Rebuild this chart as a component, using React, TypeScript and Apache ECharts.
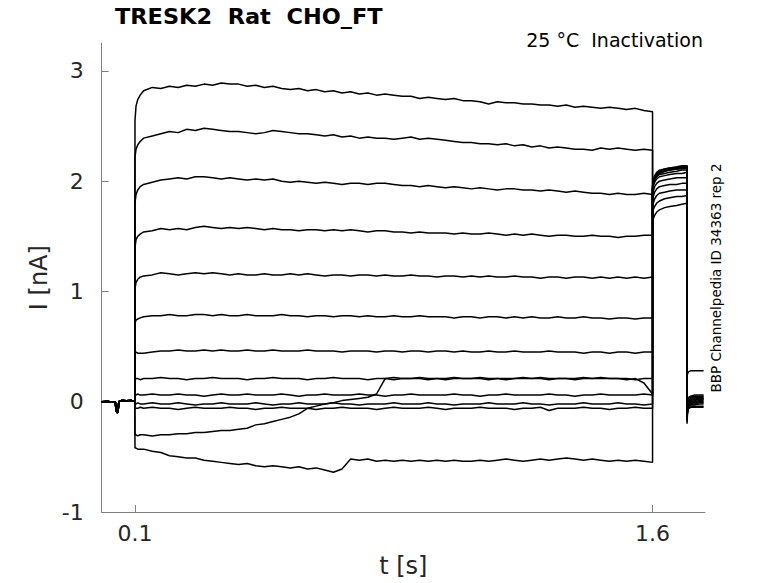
import React, { useEffect, useRef } from "react";
import * as echarts from "echarts";

const FONT = "DejaVu Sans";

// Tick labels
const xTicks = [0.1, 1.6];
const yTicks = [-1, 0, 1, 2, 3];

// Holding segment before the step (shared by all sweeps)
const holdT = [0.0035, 0.02, 0.035, 0.043, 0.045, 0.048, 0.051, 0.053, 0.06, 0.075, 0.09, 0.0995];
const holdI = [0.0, 0.003, -0.002, 0.0, -0.08, -0.1, -0.09, 0.0, 0.01, 0.008, 0.01, 0.005];

// Step segment time base (s)
const stepT = [
  0.1, 0.103, 0.108, 0.115,
  0.125, 0.15, 0.175, 0.2, 0.225, 0.25, 0.275, 0.3, 0.325, 0.35,
  0.375, 0.4, 0.425, 0.45, 0.475, 0.5, 0.525, 0.55, 0.575, 0.6,
  0.625, 0.65, 0.675, 0.7, 0.725, 0.75, 0.775, 0.8, 0.825, 0.85,
  0.875, 0.9, 0.925, 0.95, 0.975, 1.0, 1.025, 1.05, 1.075, 1.1,
  1.125, 1.15, 1.175, 1.2, 1.225, 1.25, 1.275, 1.3, 1.325, 1.35,
  1.375, 1.4, 1.425, 1.45, 1.475, 1.5, 1.525, 1.55, 1.575, 1.6,
];

// Step currents (nA) for the 13 sweeps
const sweepA = [
  2.55, 2.68, 2.74, 2.78,
  2.82, 2.85, 2.84, 2.86, 2.85, 2.87, 2.86, 2.88, 2.87, 2.89,
  2.88, 2.88, 2.86, 2.87, 2.85, 2.86, 2.84, 2.83, 2.84, 2.82,
  2.83, 2.81, 2.82, 2.80, 2.81, 2.79, 2.80, 2.78, 2.79, 2.78,
  2.77, 2.77, 2.75, 2.76, 2.75, 2.74, 2.75, 2.73, 2.73, 2.72,
  2.70, 2.72, 2.71, 2.71, 2.70, 2.70, 2.69, 2.69, 2.68, 2.69,
  2.67, 2.68, 2.67, 2.66, 2.67, 2.66, 2.65, 2.66, 2.64, 2.63,
];
const sweepB = [
  2.22, 2.29, 2.33, 2.36,
  2.39, 2.41, 2.43, 2.45, 2.44, 2.47, 2.46, 2.48, 2.47, 2.46,
  2.45, 2.45, 2.44, 2.43, 2.44, 2.46, 2.45, 2.44, 2.43, 2.43,
  2.42, 2.41, 2.42, 2.40, 2.41, 2.39, 2.40, 2.39, 2.39, 2.38,
  2.39, 2.40, 2.38, 2.39, 2.38, 2.37, 2.36, 2.35, 2.35, 2.34,
  2.34, 2.33, 2.34, 2.32, 2.33, 2.31, 2.32, 2.30, 2.31, 2.30,
  2.29, 2.29, 2.28, 2.30, 2.29, 2.30, 2.29, 2.28, 2.29, 2.28,
];
const sweepC = [
  1.80, 1.88, 1.92, 1.95,
  1.97, 1.99, 2.01, 2.02, 2.03, 2.02, 2.04, 2.04, 2.03, 2.02,
  2.03, 2.02, 2.01, 2.02, 2.01, 2.02, 2.00, 1.99, 2.00, 1.99,
  1.98, 1.99, 1.98, 1.97, 1.98, 1.98, 1.97, 1.98, 1.98, 1.97,
  1.96, 1.96, 1.95, 1.96, 1.95, 1.94, 1.95, 1.94, 1.93, 1.94,
  1.93, 1.92, 1.93, 1.93, 1.92, 1.92, 1.91, 1.92, 1.91, 1.90,
  1.91, 1.90, 1.89, 1.89, 1.88, 1.89, 1.88, 1.88, 1.89, 1.88,
];
const sweepD = [
  1.40, 1.47, 1.50, 1.52,
  1.54, 1.55, 1.57, 1.56, 1.57, 1.56, 1.58, 1.59, 1.58, 1.57,
  1.58, 1.57, 1.58, 1.57, 1.56, 1.57, 1.56, 1.56, 1.55, 1.56,
  1.56, 1.55, 1.56, 1.55, 1.56, 1.55, 1.54, 1.55, 1.55, 1.54,
  1.54, 1.53, 1.54, 1.53, 1.53, 1.53, 1.52, 1.53, 1.52, 1.52,
  1.53, 1.52, 1.51, 1.52, 1.51, 1.52, 1.51, 1.50, 1.51, 1.51,
  1.50, 1.50, 1.51, 1.50, 1.50, 1.49, 1.50, 1.50, 1.51, 1.51,
];
const sweepE = [
  1.03, 1.08, 1.11, 1.13,
  1.14, 1.15, 1.17, 1.16, 1.15, 1.16, 1.17, 1.16, 1.17, 1.16,
  1.15, 1.16, 1.15, 1.15, 1.16, 1.15, 1.15, 1.16, 1.15, 1.16,
  1.15, 1.14, 1.15, 1.15, 1.14, 1.15, 1.15, 1.14, 1.15, 1.14,
  1.14, 1.15, 1.14, 1.14, 1.13, 1.14, 1.14, 1.13, 1.14, 1.13,
  1.14, 1.13, 1.13, 1.14, 1.13, 1.13, 1.12, 1.13, 1.13, 1.12,
  1.13, 1.13, 1.12, 1.13, 1.12, 1.13, 1.12, 1.13, 1.12, 1.13,
];
const sweepF = [
  0.71, 0.74, 0.75, 0.76,
  0.77, 0.78, 0.78, 0.79, 0.78, 0.78, 0.79, 0.79, 0.78, 0.79,
  0.78, 0.78, 0.79, 0.78, 0.78, 0.78, 0.79, 0.78, 0.78, 0.77,
  0.78, 0.78, 0.77, 0.78, 0.78, 0.77, 0.78, 0.77, 0.77, 0.78,
  0.77, 0.77, 0.78, 0.77, 0.77, 0.77, 0.76, 0.77, 0.77, 0.76,
  0.77, 0.77, 0.76, 0.77, 0.76, 0.77, 0.76, 0.76, 0.77, 0.76,
  0.76, 0.77, 0.76, 0.76, 0.75, 0.76, 0.76, 0.75, 0.76, 0.76,
];
const sweepG = [
  0.44, 0.45, 0.44, 0.44,
  0.44, 0.45, 0.46, 0.46, 0.47, 0.46, 0.46, 0.47, 0.46, 0.47,
  0.46, 0.46, 0.47, 0.46, 0.46, 0.47, 0.46, 0.46, 0.46, 0.47,
  0.46, 0.46, 0.46, 0.45, 0.46, 0.46, 0.46, 0.45, 0.46, 0.46,
  0.45, 0.46, 0.46, 0.45, 0.46, 0.46, 0.45, 0.46, 0.45, 0.45,
  0.46, 0.45, 0.45, 0.46, 0.45, 0.45, 0.45, 0.46, 0.45, 0.45,
  0.45, 0.44, 0.45, 0.45, 0.44, 0.45, 0.45, 0.44, 0.45, 0.45,
];
const sweepH = [
  0.20, 0.21, 0.21, 0.20,
  0.21, 0.21, 0.22, 0.21, 0.21, 0.20, 0.21, 0.21, 0.22, 0.21,
  0.21, 0.21, 0.20, 0.21, 0.21, 0.22, 0.21, 0.21, 0.21, 0.20,
  0.21, 0.21, 0.22, 0.21, 0.21, 0.21, 0.20, 0.21, 0.21, 0.22,
  0.21, 0.21, 0.21, 0.20, 0.21, 0.21, 0.22, 0.21, 0.21, 0.21,
  0.20, 0.21, 0.21, 0.21, 0.22, 0.21, 0.21, 0.20, 0.21, 0.21,
  0.21, 0.22, 0.21, 0.21, 0.21, 0.21, 0.20, 0.21, 0.17, 0.07,
];
const sweepI = [
  0.06, 0.06, 0.07, 0.06,
  0.06, 0.07, 0.06, 0.06, 0.07, 0.06, 0.06, 0.05, 0.06, 0.07,
  0.06, 0.06, 0.07, 0.06, 0.06, 0.06, 0.07, 0.06, 0.05, 0.06,
  0.06, 0.07, 0.06, 0.06, 0.06, 0.07, 0.06, 0.06, 0.05, 0.06,
  0.06, 0.07, 0.06, 0.06, 0.06, 0.06, 0.07, 0.06, 0.06, 0.05,
  0.06, 0.06, 0.07, 0.06, 0.06, 0.06, 0.06, 0.07, 0.06, 0.06,
  0.05, 0.06, 0.06, 0.07, 0.06, 0.06, 0.06, 0.06, 0.07, 0.06,
];
const sweepJ = [
  -0.02, -0.02, -0.01, -0.02,
  -0.02, -0.01, -0.02, -0.02, -0.01, -0.02, -0.03, -0.02, -0.02, -0.01,
  -0.02, -0.02, -0.02, -0.01, -0.02, -0.03, -0.02, -0.02, -0.01, -0.02,
  -0.02, -0.02, -0.01, -0.02, -0.02, -0.03, -0.02, -0.02, -0.02, -0.01,
  -0.02, -0.02, -0.02, -0.01, -0.02, -0.02, -0.03, -0.02, -0.02, -0.02,
  -0.01, -0.02, -0.02, -0.02, -0.01, -0.02, -0.02, -0.03, -0.02, -0.02,
  -0.02, -0.01, -0.02, -0.02, -0.02, -0.01, -0.02, -0.02, -0.03, -0.02,
];
const sweepK = [
  -0.05, -0.06, -0.06, -0.05,
  -0.06, -0.05, -0.06, -0.06, -0.07, -0.06, -0.05, -0.06, -0.06, -0.06,
  -0.05, -0.06, -0.06, -0.07, -0.06, -0.06, -0.05, -0.06, -0.06, -0.06,
  -0.07, -0.06, -0.06, -0.05, -0.06, -0.06, -0.06, -0.07, -0.06, -0.05,
  -0.06, -0.06, -0.06, -0.05, -0.06, -0.07, -0.06, -0.06, -0.06, -0.05,
  -0.06, -0.06, -0.06, -0.07, -0.06, -0.06, -0.05, -0.08, -0.06, -0.06,
  -0.06, -0.05, -0.06, -0.06, -0.07, -0.06, -0.06, -0.05, -0.06, -0.06,
];
const sweepL = [
  -0.30, -0.30, -0.31, -0.30,
  -0.30, -0.31, -0.30, -0.30, -0.29, -0.29, -0.28, -0.28, -0.27, -0.26,
  -0.26, -0.25, -0.24, -0.21, -0.20, -0.18, -0.16, -0.14, -0.11, -0.06,
  -0.04, -0.02, -0.01, 0.01, 0.02, 0.03, 0.04, 0.07, 0.21, 0.20,
  0.21, 0.21, 0.22, 0.21, 0.21, 0.20, 0.21, 0.21, 0.21, 0.22,
  0.21, 0.21, 0.20, 0.21, 0.21, 0.21, 0.22, 0.21, 0.21, 0.21,
  0.20, 0.21, 0.21, 0.22, 0.21, 0.21, 0.21, 0.20, 0.21, 0.21,
];
const sweepM = [
  -0.42, -0.42, -0.43, -0.43,
  -0.43, -0.45, -0.46, -0.49, -0.50, -0.51, -0.51, -0.53, -0.54, -0.55,
  -0.56, -0.57, -0.56, -0.58, -0.59, -0.58, -0.59, -0.60, -0.59, -0.61,
  -0.60, -0.62, -0.64, -0.61, -0.52, -0.53, -0.52, -0.54, -0.53, -0.54,
  -0.53, -0.54, -0.53, -0.54, -0.53, -0.54, -0.53, -0.54, -0.54, -0.53,
  -0.54, -0.53, -0.52, -0.53, -0.54, -0.53, -0.52, -0.53, -0.52, -0.51,
  -0.52, -0.53, -0.52, -0.53, -0.54, -0.53, -0.54, -0.53, -0.54, -0.55,
];

// Test pulse (tail) segment
const tailT = [1.6, 1.602, 1.606, 1.612, 1.62, 1.635, 1.65, 1.67, 1.685, 1.7];
const tailA = [1.62, 1.66, 1.69, 1.72, 1.74, 1.76, 1.77, 1.78, 1.79, 1.80];
const tailB = [1.70, 1.74, 1.77, 1.80, 1.82, 1.84, 1.85, 1.86, 1.86, 1.87];
const tailC = [1.76, 1.80, 1.84, 1.87, 1.89, 1.90, 1.91, 1.92, 1.92, 1.92];
const tailD = [1.82, 1.86, 1.90, 1.93, 1.95, 1.96, 1.97, 1.97, 1.98, 1.98];
const tailE = [1.86, 1.91, 1.95, 1.98, 2.00, 2.01, 2.02, 2.03, 2.03, 2.03];
const tailF = [1.90, 1.95, 1.99, 2.02, 2.04, 2.05, 2.06, 2.07, 2.07, 2.08];
const tailG = [1.92, 1.97, 2.01, 2.04, 2.06, 2.07, 2.08, 2.09, 2.10, 2.10];
const tailH = [1.93, 1.98, 2.02, 2.05, 2.07, 2.09, 2.10, 2.11, 2.11, 2.12];
const tailI = [1.94, 1.99, 2.03, 2.06, 2.08, 2.10, 2.11, 2.12, 2.12, 2.13];
const tailJ = [1.94, 2.00, 2.04, 2.07, 2.09, 2.10, 2.11, 2.12, 2.13, 2.13];
const tailK = [1.95, 2.00, 2.04, 2.07, 2.09, 2.11, 2.12, 2.12, 2.13, 2.14];
const tailL = [1.93, 1.98, 2.02, 2.05, 2.07, 2.09, 2.10, 2.11, 2.12, 2.12];
const tailM = [1.95, 2.01, 2.05, 2.08, 2.10, 2.11, 2.12, 2.13, 2.14, 2.14];

// Return to holding
const endT = [1.7, 1.701, 1.704, 1.71, 1.72, 1.735, 1.748];
const endA = [-0.20, -0.12, -0.06, -0.03, -0.02, -0.01, -0.01];
const endB = [-0.18, -0.10, -0.05, -0.02, -0.01, 0.0, 0.0];
const endC = [-0.16, -0.08, -0.03, -0.01, 0.0, 0.01, 0.01];
const endD = [-0.14, -0.06, -0.02, 0.0, 0.01, 0.02, 0.02];
const endE = [-0.12, -0.05, -0.01, 0.01, 0.02, 0.02, 0.03];
const endF = [-0.10, -0.04, 0.0, 0.02, 0.03, 0.03, 0.03];
const endG = [-0.08, -0.02, 0.01, 0.03, 0.04, 0.04, 0.04];
const endH = [-0.06, 0.0, 0.03, 0.04, 0.05, 0.05, 0.05];
const endI = [-0.05, 0.01, 0.04, 0.05, 0.06, 0.06, 0.06];
const endJ = [-0.10, -0.06, -0.04, -0.03, -0.03, -0.02, -0.02];
const endK = [-0.12, -0.08, -0.06, -0.05, -0.04, -0.04, -0.04];
const endL = [0.22, 0.25, 0.27, 0.28, 0.28, 0.28, 0.28];
const endM = [-0.15, -0.09, -0.06, -0.05, -0.05, -0.05, -0.05];

const sweeps = [
  [sweepA, tailA, endA],
  [sweepB, tailB, endB],
  [sweepC, tailC, endC],
  [sweepD, tailD, endD],
  [sweepE, tailE, endE],
  [sweepF, tailF, endF],
  [sweepG, tailG, endG],
  [sweepH, tailH, endH],
  [sweepI, tailI, endI],
  [sweepJ, tailJ, endJ],
  [sweepK, tailK, endK],
  [sweepL, tailL, endL],
  [sweepM, tailM, endM],
];

function buildSweep(step: number[], tail: number[], end: number[]) {
  const pts: number[][] = [];
  holdT.forEach((t, i) => pts.push([t, holdI[i]]));
  stepT.forEach((t, i) => pts.push([t, step[i]]));
  tailT.forEach((t, i) => pts.push([t, tail[i]]));
  endT.forEach((t, i) => pts.push([t, end[i]]));
  return pts;
}

export default function App() {
  const ref = useRef<HTMLDivElement>(null);
  useEffect(() => {
    document.body.style.margin = "0";
    const chart = echarts.init(ref.current as HTMLDivElement, null, { renderer: "svg" });
    const axisColor = "#808080";
    const textColor = "#262626";
    chart.setOption({
      animation: false,
      backgroundColor: "#ffffff",
      grid: { left: 101.7, right: 73, top: 43.3, bottom: 71, containLabel: false },
      xAxis: {
        type: "value",
        min: 0.0035,
        max: 1.752,
        name: "t [s]",
        nameLocation: "middle",
        nameGap: 42,
        nameTextStyle: { fontSize: 24, color: textColor, fontFamily: FONT },
        axisLine: { show: true, onZero: false, lineStyle: { color: axisColor, width: 1 } },
        axisTick: { show: true, inside: true, length: 7, customValues: xTicks, lineStyle: { color: axisColor } },
        axisLabel: {
          customValues: xTicks,
          fontSize: 22,
          color: textColor,
          fontFamily: FONT,
          margin: 10,
          formatter: (v: number) => String(v),
        },
        splitLine: { show: false },
      },
      yAxis: {
        type: "value",
        min: -1,
        max: 3.25,
        name: "I [nA]",
        nameLocation: "middle",
        nameGap: 34,
        nameRotate: 90,
        nameTextStyle: { fontSize: 24, color: textColor, fontFamily: FONT },
        axisLine: { show: true, onZero: false, lineStyle: { color: axisColor, width: 1 } },
        axisTick: { show: true, inside: true, length: 7, customValues: yTicks, lineStyle: { color: axisColor } },
        axisLabel: {
          customValues: yTicks,
          fontSize: 22,
          color: textColor,
          fontFamily: FONT,
          margin: 18,
          formatter: (v: number) => String(v),
        },
        splitLine: { show: false },
      },
      graphic: [
        {
          type: "text",
          x: 115,
          y: 5,
          scaleX: 1.02,
          style: {
            text: "TRESK2  Rat  CHO_FT",
            font: `bold 22px "${FONT}"`,
            fill: "#000000",
            textAlign: "left",
            textVerticalAlign: "top",
          },
        },
        {
          type: "text",
          x: 703,
          y: 30,
          style: {
            text: "25 °C  Inactivation",
            font: `19px "${FONT}"`,
            fill: "#000000",
            textAlign: "right",
            textVerticalAlign: "top",
          },
        },
        {
          type: "text",
          x: 716,
          y: 278,
          rotation: Math.PI / 2,
          style: {
            text: "BBP Channelpedia ID 34363 rep 2",
            font: `13.5px "${FONT}"`,
            fill: "#000000",
            textAlign: "center",
            textVerticalAlign: "middle",
          },
        },
      ],
      series: sweeps.map(([s, t, e], k) => ({
        type: "line",
        name: "sweep " + (k + 1),
        data: buildSweep(s, t, e),
        showSymbol: false,
        symbol: "none",
        silent: true,
        lineStyle: { color: "#000000", width: 1.5 },
      })),
    });
    return () => chart.dispose();
  }, []);
  return <div ref={ref} style={{ width: 778, height: 583 }} />;
}
